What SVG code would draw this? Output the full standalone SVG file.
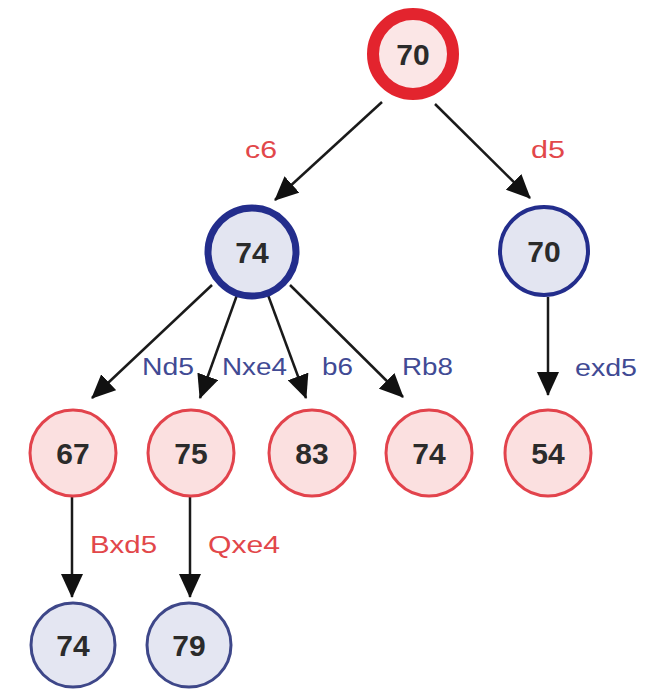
<svg xmlns="http://www.w3.org/2000/svg" width="659" height="691" viewBox="0 0 659 691">
  <style>
    .num { font-family: "Liberation Sans", Arial, sans-serif; font-weight: bold; font-size: 30px; fill: #2b2b2b; text-anchor: middle; }
    .lbl { font-family: "Liberation Sans", Arial, sans-serif; font-size: 23px; }
    .red-lbl { fill: #e2474a; }
    .blue-lbl { fill: #414a94; }
    .max { fill: #fbe6e6; stroke: #e3242e; }
    .min { fill: #e3e5f1; stroke: #232d8c; }
    .leaf-red { fill: #fbe0e0; stroke: #e2434c; stroke-width: 3; }
    .leaf-blue { fill: #e4e6f2; stroke: #3e4789; stroke-width: 3; }
    .edge { stroke: #1a1a1a; stroke-width: 2.5; fill: none; marker-end: url(#arrow); }
  </style>
  <defs>
    <marker id="arrow" markerUnits="userSpaceOnUse" markerWidth="24" markerHeight="22" viewBox="0 0 24 22" refX="23" refY="11" orient="auto">
      <path d="M0,0 L24,11 L0,22 Z" fill="#111"/>
    </marker>
  </defs>
  <rect width="659" height="691" fill="#ffffff"/>

  <!-- connectors -->
  <g id="connectors">
    <line class="edge" x1="382" y1="102" x2="275" y2="200"/>
    <line class="edge" x1="435" y1="104" x2="530" y2="198"/>
    <line class="edge" x1="212" y1="285" x2="92" y2="398"/>
    <line class="edge" x1="237" y1="295" x2="200" y2="398"/>
    <line class="edge" x1="268" y1="295" x2="306" y2="398"/>
    <line class="edge" x1="290" y1="285" x2="403" y2="397"/>
    <line class="edge" x1="548" y1="297" x2="548" y2="395"/>
    <line class="edge" x1="72" y1="497" x2="72" y2="597"/>
    <line class="edge" x1="190" y1="497" x2="190" y2="597"/>

    <text class="lbl red-lbl" x="245" y="158" textLength="32" lengthAdjust="spacingAndGlyphs">c6</text>
    <text class="lbl red-lbl" x="531" y="158" textLength="34" lengthAdjust="spacingAndGlyphs">d5</text>
    <text class="lbl blue-lbl" x="142" y="375" textLength="52" lengthAdjust="spacingAndGlyphs">Nd5</text>
    <text class="lbl blue-lbl" x="222" y="375" textLength="65" lengthAdjust="spacingAndGlyphs">Nxe4</text>
    <text class="lbl blue-lbl" x="322" y="375" textLength="31" lengthAdjust="spacingAndGlyphs">b6</text>
    <text class="lbl blue-lbl" x="402" y="375" textLength="51" lengthAdjust="spacingAndGlyphs">Rb8</text>
    <text class="lbl blue-lbl" x="575" y="376" textLength="62" lengthAdjust="spacingAndGlyphs">exd5</text>
    <text class="lbl red-lbl" x="90" y="553" textLength="67" lengthAdjust="spacingAndGlyphs">Bxd5</text>
    <text class="lbl red-lbl" x="208" y="553" textLength="72" lengthAdjust="spacingAndGlyphs">Qxe4</text>
  </g>

  <!-- root: max player -->
  <g id="root">
    <circle class="max" cx="413" cy="54" r="40" stroke-width="12"/>
    <text class="num" x="413" y="65">70</text>
  </g>

  <!-- min replies -->
  <g id="node-c6">
    <circle class="min" cx="252" cy="252" r="44" stroke-width="7"/>
    <text class="num" x="252" y="263">74</text>
  </g>
  <g id="node-d5">
    <circle class="min" cx="544" cy="251" r="44" stroke-width="4"/>
    <text class="num" x="544" y="262">70</text>
  </g>

  <!-- max replies -->
  <g id="node-nd5">
    <circle class="leaf-red" cx="73" cy="453" r="43"/>
    <text class="num" x="73" y="464">67</text>
  </g>
  <g id="node-nxe4">
    <circle class="leaf-red" cx="191" cy="453" r="43"/>
    <text class="num" x="191" y="464">75</text>
  </g>
  <g id="node-b6">
    <circle class="leaf-red" cx="312" cy="453" r="43"/>
    <text class="num" x="312" y="464">83</text>
  </g>
  <g id="node-rb8">
    <circle class="leaf-red" cx="429" cy="453" r="43"/>
    <text class="num" x="429" y="464">74</text>
  </g>
  <g id="node-exd5">
    <circle class="leaf-red" cx="548" cy="453" r="43"/>
    <text class="num" x="548" y="464">54</text>
  </g>

  <!-- deepest replies -->
  <g id="node-bxd5">
    <circle class="leaf-blue" cx="73" cy="645" r="42"/>
    <text class="num" x="73" y="656">74</text>
  </g>
  <g id="node-qxe4">
    <circle class="leaf-blue" cx="189" cy="645" r="42"/>
    <text class="num" x="189" y="656">79</text>
  </g>
</svg>
